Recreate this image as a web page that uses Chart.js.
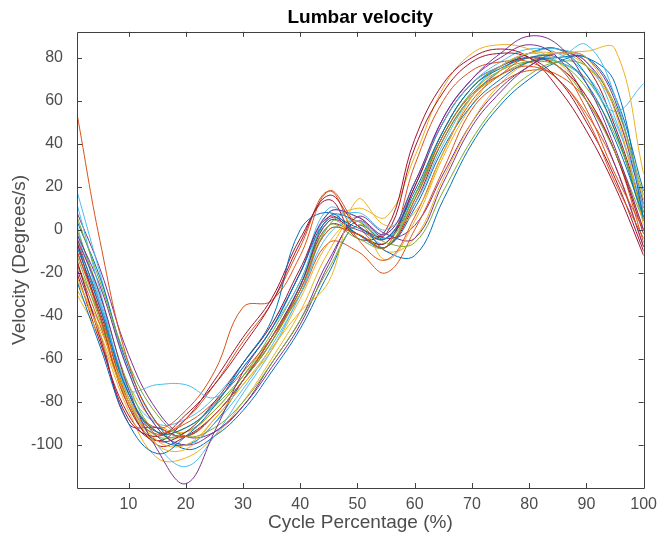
<!DOCTYPE html>
<html>
<head>
<meta charset="utf-8">
<script src="https://cdn.jsdelivr.net/npm/chart.js@4"></script>
<style>
  html, body { margin: 0; padding: 0; background: #fff; }
  #wrap { width: 664px; height: 539px; }
</style>
</head>
<body>
<div id="wrap"><canvas id="grafico"></canvas></div>
<script>
// Lumbar velocity — one curve per gait cycle, values every 5 %

const cyclePct = [1, 5, 10, 15, 20, 25, 30, 35, 40, 45, 50, 55, 60, 65, 70, 75, 80, 85, 90, 95, 100];

const xTicks = [10, 20, 30, 40, 50, 60, 70, 80, 90, 100];
const yTicks = [-100, -80, -60, -40, -20, 0, 20, 40, 60, 80];

const matlabColors = ['#0072BD', '#D95319', '#EDB120', '#7E2F8E', '#77AC30', '#4DBEEE', '#A2142F'];

const trial01 = [-8, -36, -76, -94, -92, -81, -64, -46, -20, 5, 1, -4, 18, 46, 66, 75, 80, 80, 68, 42, 6];
const trial02 = [54, -5, -62, -90, -96, -86, -70, -50, -28, 0, -2, -8, 14, 44, 63, 72, 76, 70, 52, 22, -4];
const trial03 = [-22, -48, -80, -100, -102, -88, -72, -55, -38, -24, 14, 2, 8, 36, 62, 76, 82, 82, 80, 55, 2];
const trial04 = [-4, -30, -74, -102, -118, -94, -66, -46, -20, 8, 6, -2, 22, 52, 70, 82, 90, 86, 68, 38, 0];
const trial05 = [6, -24, -62, -86, -96, -92, -80, -62, -42, -18, 2, -6, -6, 18, 42, 60, 72, 78, 76, 58, 16];
const trial06 = [12, -28, -74, -72, -72, -78, -64, -46, -24, 8, 6, -2, 22, 50, 68, 76, 82, 80, 86, 62, 10];
const trial07 = [-14, -50, -88, -96, -86, -72, -54, -34, -6, 16, 2, -2, 38, 64, 78, 82, 80, 70, 50, 24, -10];
const trial08 = [-24, -54, -90, -104, -96, -82, -62, -42, 0, 8, -2, -8, 10, 38, 58, 70, 78, 80, 80, 68, 5];
const trial09 = [-10, -40, -82, -95, -88, -72, -52, -34, -8, 18, -4, -14, 6, 36, 60, 72, 80, 76, 56, 26, 0];
const trial10 = [-28, -46, -78, -98, -100, -88, -72, -56, -32, -6, 4, -14, 4, 34, 58, 74, 80, 82, 83, 84, 26];
const trial11 = [-2, -26, -66, -92, -100, -94, -82, -64, -44, -16, 6, -2, -4, 22, 48, 64, 76, 82, 78, 56, 10];
const trial12 = [0, -30, -72, -94, -92, -82, -68, -52, -28, 2, -4, -8, 16, 44, 64, 74, 78, 76, 60, 36, 4];
const trial13 = [2, -34, -78, -100, -110, -96, -76, -56, -30, -2, 4, -4, 12, 40, 62, 74, 80, 78, 70, 55, 68];
const trial14 = [-6, -40, -82, -98, -94, -80, -62, -44, -18, 6, -2, -6, 20, 50, 68, 76, 80, 76, 62, 36, -2];
const trial15 = [4, -22, -64, -90, -102, -96, -84, -66, -46, -20, 2, -10, -12, 14, 40, 58, 70, 78, 80, 62, 18];
const trial16 = [-16, -44, -80, -94, -90, -80, -66, -50, -30, -6, -10, -20, 0, 28, 56, 68, 74, 72, 60, 36, -6];
const trial17 = [-30, -50, -84, -106, -106, -96, -80, -60, -38, -10, 6, -10, -4, 24, 50, 68, 78, 82, 76, 56, 14];
const trial18 = [-18, -48, -90, -92, -96, -86, -70, -50, -26, 4, 0, -4, 20, 52, 70, 80, 86, 80, 60, 30, -8];
const trial19 = [-12, -42, -80, -96, -94, -84, -68, -48, -24, 4, -2, -6, 16, 46, 66, 76, 80, 78, 66, 44, 8];
const trial20 = [18, -20, -66, -92, -100, -90, -74, -54, -30, 2, 8, 0, 16, 44, 64, 76, 82, 84, 78, 52, 8];
const trial21 = [-20, -52, -86, -98, -88, -70, -50, -32, -4, 14, -4, 0, 42, 68, 80, 84, 80, 66, 46, 20, -12];
const trial22 = [-6, -34, -76, -96, -100, -90, -70, -50, -26, 6, 4, -4, 16, 46, 66, 76, 82, 84, 72, 46, 4];
const trial23 = [-4, -36, -78, -92, -84, -66, -36, -33, -12, 18, 2, -8, 30, 60, 74, 78, 78, 70, 54, 30, -8];
const trial24 = [-24, -44, -72, -90, -94, -84, -68, -50, -26, 2, 10, 6, 34, 66, 82, 86, 84, 78, 62, 36, 0];
const trial25 = [8, -18, -58, -84, -96, -94, -82, -62, -42, -14, 4, -4, 2, 26, 50, 66, 76, 82, 80, 60, 12];
const trial26 = [-16, -40, -76, -94, -96, -86, -70, -52, -28, 0, -2, -8, 14, 42, 62, 72, 78, 78, 70, 46, 6];
const trial27 = [-2, -32, -74, -90, -88, -78, -62, -44, -20, 10, 2, -6, 22, 50, 68, 78, 84, 82, 72, 50, 14];
const trial28 = [-10, -38, -80, -100, -96, -86, -70, -52, -26, 2, -2, -8, 12, 42, 62, 74, 82, 84, 76, 48, 8];

const trials = [
  trial01, trial02, trial03, trial04, trial05, trial06, trial07,
  trial08, trial09, trial10, trial11, trial12, trial13, trial14,
  trial15, trial16, trial17, trial18, trial19, trial20, trial21,
  trial22, trial23, trial24, trial25, trial26, trial27, trial28
];

const FONTE = "'Liberation Sans', Arial, Helvetica, sans-serif";
const COR_EIXO = '#404040';
const COR_TEXTO = '#4d4d4d';

// caixa fechada estilo MATLAB, com marcas de escala para dentro nos quatro lados
const caixaMatlab = {
  id: 'caixaMatlab',
  afterDatasetsDraw(chart) {
    const { ctx, chartArea: a, scales } = chart;
    const tam = 5;
    ctx.save();
    ctx.strokeStyle = COR_EIXO;
    ctx.lineWidth = 1;
    ctx.beginPath();
    ctx.rect(Math.round(a.left) + 0.5, Math.round(a.top) + 0.5, Math.round(a.right - a.left), Math.round(a.bottom - a.top));
    scales.x.ticks.forEach((t) => {
      const px = Math.round(scales.x.getPixelForValue(t.value)) + 0.5;
      ctx.moveTo(px, a.bottom); ctx.lineTo(px, a.bottom - tam);
      ctx.moveTo(px, a.top); ctx.lineTo(px, a.top + tam);
    });
    scales.y.ticks.forEach((t) => {
      const py = Math.round(scales.y.getPixelForValue(t.value)) + 0.5;
      ctx.moveTo(a.left, py); ctx.lineTo(a.left + tam, py);
      ctx.moveTo(a.right, py); ctx.lineTo(a.right - tam, py);
    });
    ctx.stroke();
    ctx.restore();
  }
};

const datasets = trials.map((valores, i) => ({
  data: valores.map((v, j) => ({ x: cyclePct[j], y: v })),
  borderColor: matlabColors[i % matlabColors.length],
  borderWidth: 1,
  pointRadius: 0,
  tension: 0.4,
  fill: false
}));

new Chart(document.getElementById('grafico'), {
  type: 'line',
  data: { datasets },
  plugins: [caixaMatlab],
  options: {
    responsive: true,
    maintainAspectRatio: false,
    animation: false,
    layout: { padding: { left: 0, right: 18, top: 0, bottom: 0 } },
    plugins: {
      legend: { display: false },
      tooltip: { enabled: false },
      title: {
        display: true,
        fullSize: false, // centraliza sobre a área do gráfico, como no MATLAB
        text: 'Lumbar velocity',
        color: '#000',
        font: { family: FONTE, size: 19, weight: 'bold' },
        padding: { top: 6, bottom: 3 }
      }
    },
    scales: {
      x: {
        type: 'linear',
        min: 1,
        max: 100,
        afterBuildTicks: (s) => { s.ticks = xTicks.map((v) => ({ value: v })); },
        afterFit: (s) => { s.height = 51; },
        grid: { display: false, drawTicks: false },
        border: { display: false },
        ticks: { color: COR_TEXTO, padding: 7, font: { family: FONTE, size: 16 } },
        title: {
          display: true,
          text: 'Cycle Percentage (%)',
          color: COR_TEXTO,
          font: { family: FONTE, size: 19 },
          padding: { top: 0, bottom: 5 }
        }
      },
      y: {
        min: -120,
        max: 92,
        afterBuildTicks: (s) => { s.ticks = yTicks.map((v) => ({ value: v })); },
        afterFit: (s) => { s.width = 77; },
        grid: { display: false, drawTicks: false },
        border: { display: false },
        ticks: { color: COR_TEXTO, padding: 14, font: { family: FONTE, size: 16 } },
        title: {
          display: true,
          text: 'Velocity (Degrees/s)',
          color: COR_TEXTO,
          font: { family: FONTE, size: 19 },
          padding: { top: 8, bottom: 0 }
        }
      }
    }
  }
});
</script>
</body>
</html>
